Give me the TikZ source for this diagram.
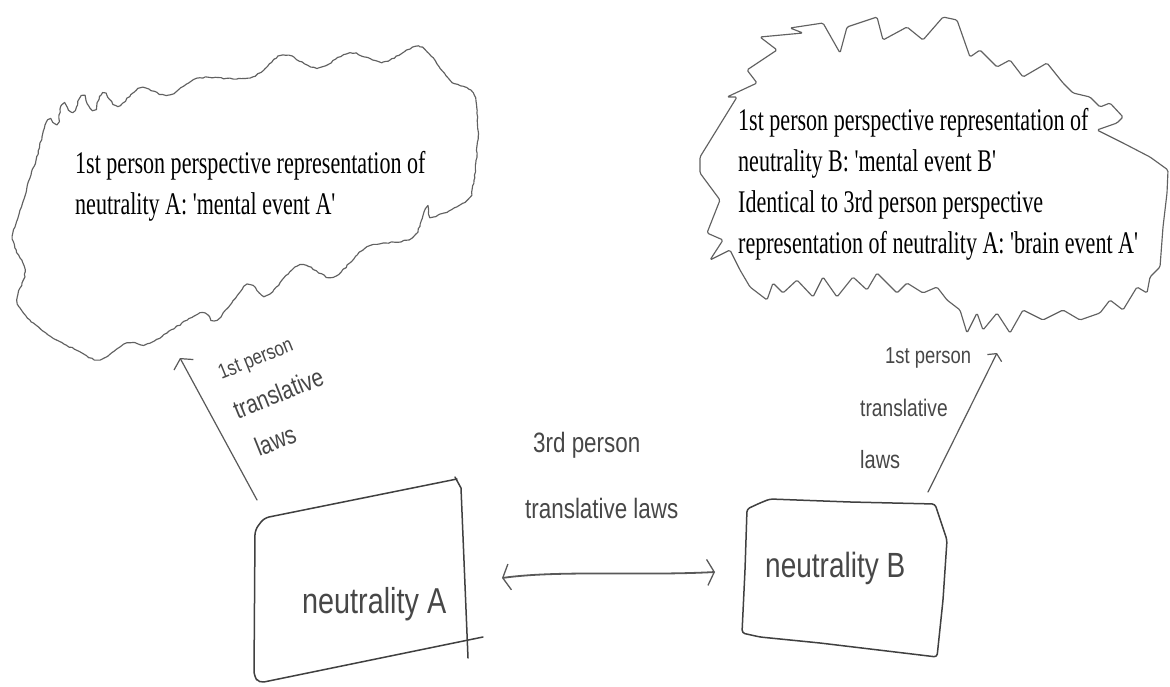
\documentclass[tikz,border=0pt]{standalone}
\usepackage{fontspec}
\setmainfont{Liberation Serif}
\newfontfamily\typed[FakeStretch=0.7]{Liberation Serif}
\newfontfamily\hand[FakeStretch=0.8]{Liberation Sans}
\usetikzlibrary{arrows.meta,decorations.pathmorphing}
\begin{document}
\begin{tikzpicture}[x=1pt,y=-1pt,
  cloudline/.style={draw=black!62, line width=1.15pt, line join=round},
  boxline/.style={draw=black!75, line width=1.5pt, line cap=round, line join=round},
  arrowline/.style={draw=black!65, line width=1.2pt, line cap=round},
  barb/.style={-{Straight Barb[length=7pt,width=22pt,line width=1.2pt]}},
  smallbarb/.style={-{Straight Barb[length=5pt,width=16pt,line width=1.2pt]}},
  typedtext/.style={anchor=north west, inner sep=0pt, align=left, font=\typed\fontsize{31.5}{41}\selectfont},
  handtext/.style={inner sep=0pt, anchor=base west, text=black!72, font=\hand\fontsize{#1}{#1}\selectfont},
  handblock/.style={inner sep=0pt, anchor=north west, align=left, text=black!72, font=\hand\fontsize{26}{43}\selectfont},
]
\useasboundingbox[fill=white] (0,0) rectangle (1170,687);

% ---- left cloud (wavy)
\pgfmathsetseed{11}
\draw[cloudline, decorate, decoration={random steps, segment length=3pt, amplitude=0.7pt}]
  plot[smooth cycle, tension=0.55] coordinates {
  (13,233) (22,205) (30,178) (36,160) (42,137) (48,120) (57,124) (62,105) (73,112)
  (82,96) (93,110) (103,93) (118,106) (140,88) (168,95) (200,78) (250,78) (283,55)
  (317,68) (350,53) (383,62) (420,47) (450,80) (473,93) (478,130) (474,180) (467,200)
  (433,217) (427,207) (412,238) (367,247) (333,277) (300,265) (267,295) (247,285)
  (217,320) (200,313) (150,343) (127,343) (100,360) (80,352) (50,336) (30,320)
  (17,300) (25,272) (15,248)};

% ---- right cloud (spiky)
\draw[cloudline, rounded corners=1.5pt]
  (700,157) -- (737,97) -- (727,97) -- (757,83) -- (747,70) -- (777,50) -- (760,37)
  -- (803,33) -- (790,28) -- (823,23) -- (840,53) -- (847,27) -- (877,17) -- (883,40)
  -- (907,27) -- (923,40) -- (943,17) -- (957,20) -- (970,57) -- (980,50) -- (997,67)
  -- (1010,60) -- (1023,77) -- (1047,63) -- (1063,83) -- (1073,93) -- (1090,97)
  -- (1100,107) -- (1110,103) -- (1123,117) -- (1117,123) -- (1097,130) -- (1123,143)
  -- (1150,157) -- (1168,170) -- (1167,193) -- (1163,227) -- (1160,267) -- (1150,277)
  -- (1147,293) -- (1137,287) -- (1123,310) -- (1110,300) -- (1100,313) -- (1080,320)
  -- (1063,310) -- (1043,320) -- (1023,310) -- (1010,333) -- (997,313) -- (983,330)
  -- (977,313) -- (967,333) -- (960,310) -- (947,300) -- (937,287) -- (923,293)
  -- (907,283) -- (897,293) -- (877,273) -- (867,290) -- (853,277) -- (837,297)
  -- (823,277) -- (813,297) -- (797,280) -- (783,293) -- (773,283) -- (767,300)
  -- (750,287) -- (740,270) -- (730,250) -- (710,260) -- (723,240) -- (707,233)
  -- (720,200) -- (700,173) -- cycle;

% ---- cloud texts
\node[typedtext] (cloudA) at (75,151) {1st person perspective representation of\\neutrality A: 'mental event A'};
\node[typedtext] (cloudB) at (738,108) {1st person perspective representation of\\neutrality B: 'mental event B'\\Identical to 3rd person perspective\\representation of neutrality A: 'brain event A'};

% ---- boxes
\draw[boxline, rounded corners=5pt] (457,479) -- (264,518) -- (255,530) -- (254,676) -- (259,683) -- (483,637);
\draw[boxline] (455,477) -- (461,488) -- (468,658);
\draw[boxline, rounded corners=3pt] (747,509) -- (760,503) -- (770,499) -- (850,502) -- (935,504)
  -- (947,540) -- (943,600) -- (937,657) -- (820,643) -- (760,637) -- (742,633) -- (745,570) -- cycle;

\node[handtext=36] (boxA) at (302,613) {neutrality A};
\node[handtext=35] (boxB) at (765,577) {neutrality B};

% ---- arrows
\coordinate (aTail) at (257,500);
\coordinate (aTip) at (180,358);
\draw[arrowline, barb] (aTail) -- (aTip);

\coordinate (bTail) at (928,492);
\coordinate (bTip) at (997,353);
\draw[arrowline, smallbarb] (bTail) -- (bTip);

\coordinate (dL) at (502,578);
\coordinate (dR) at (715,572);
\draw[arrowline, line width=1.8pt, {Straight Barb[length=7pt,width=26pt,line width=1.3pt]}-{Straight Barb[length=7pt,width=26pt,line width=1.3pt]}]
  (dL) .. controls (560,570) and (640,576) .. (dR);

% ---- handwritten labels
\node[handblock, rotate=22] (lblA) at (216,366) {{\fontsize{21}{43}\selectfont 1st person}\\translative\\\hspace*{6pt}laws};

\node[handtext=28] (m1) at (533,452) {3rd person};
\node[handtext=28] (m2) at (525,518) {translative laws};

\node[handtext=23] (r1) at (885,363) {1st person};
\node[handtext=24] (r2) at (860,416) {translative};
\node[handtext=25] (r3) at (860,468) {laws};
\end{tikzpicture}
\end{document}
